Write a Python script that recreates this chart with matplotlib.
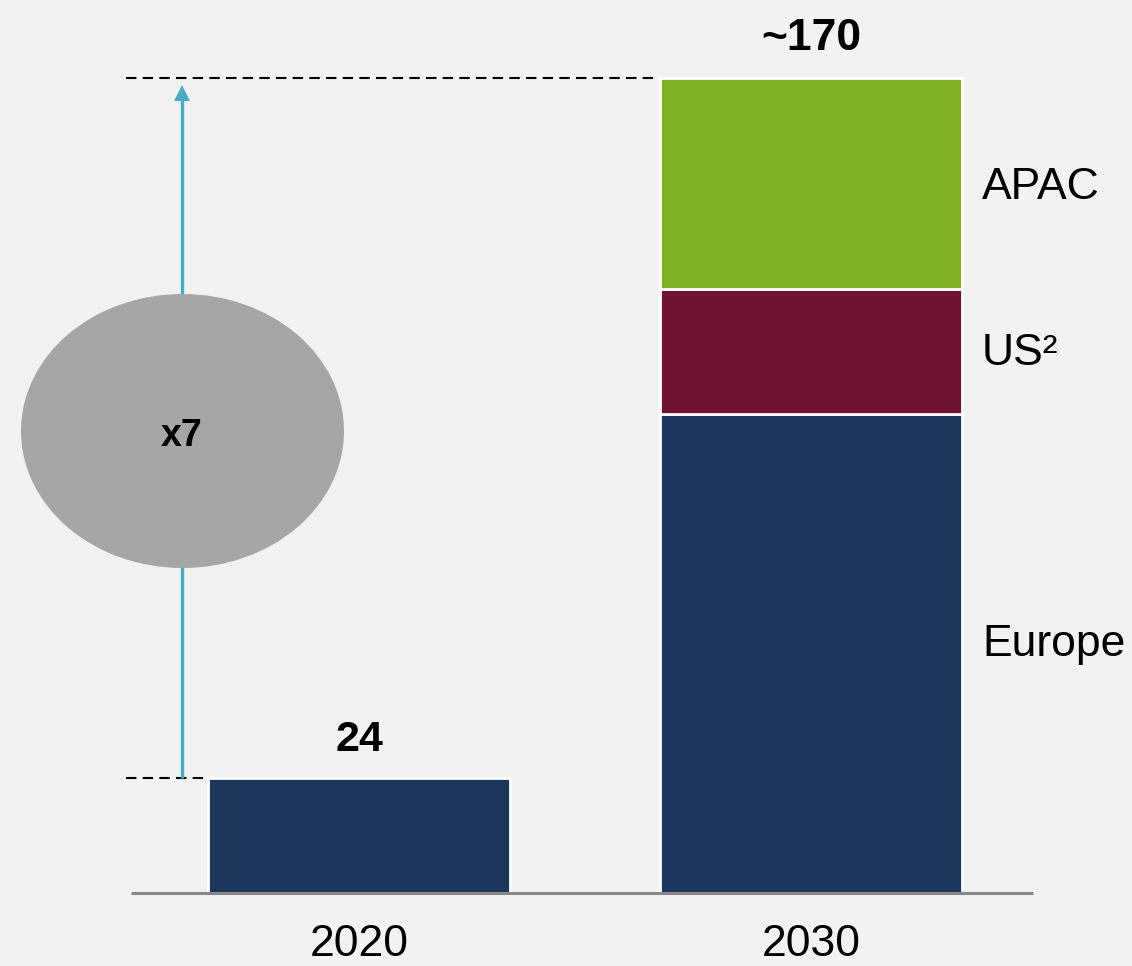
import matplotlib
matplotlib.use("Agg")
import matplotlib.pyplot as plt
from matplotlib.patches import Ellipse

plt.rcParams['font.family'] = ['Liberation Sans', 'DejaVu Sans']

# ---- data ----
years = ['2020', '2030']
regions = ['Europe', 'US²', 'APAC']
value_2020 = [24]
values_2030 = [100, 26, 44]          # Europe, US, APAC
total_labels = ['24', '~170']
growth_label = 'x7'

# ---- style ----
c_bg = '#F2F2F2'
c_navy = '#1B385C'
c_maroon = '#701232'
c_green = '#80B024'
c_arrow = '#4BACC6'
c_ellipse = '#A6A6A6'
region_colors = [c_navy, c_maroon, c_green]

W, H = 1132, 966
fig = plt.figure(figsize=(W / 100, H / 100), dpi=100, facecolor=c_bg)
ax = fig.add_axes([0, 0, 1, 1])
ax.set_facecolor(c_bg)
ax.axis('off')

# axis scaling (pixel layout)
base_px, top_px = 893, 78
total_2030 = sum(values_2030)
ppu = (base_px - top_px) / total_2030
x0_px, dx_px = 359, 452
ax.set_xlim(-x0_px / dx_px, (W - x0_px) / dx_px)
ax.set_ylim(-(H - base_px) / ppu, total_2030 + top_px / ppu)

def px_x(p):
    return (p - x0_px) / dx_px

def px_y(p):
    return (base_px - p) / ppu

xpos = [0, 1]
bw = 302 / dx_px

# bars
ax.bar(xpos[0], value_2020[0], width=bw, color=c_navy, edgecolor='white', linewidth=2, zorder=3)
bottom = 0
for v, col in zip(values_2030, region_colors):
    ax.bar(xpos[1], v, width=bw, bottom=bottom, color=col, edgecolor='white', linewidth=2, zorder=3)
    bottom += v

# baseline
ax.plot([px_x(131), px_x(1033)], [0, 0], color='#888888', lw=2.2, zorder=4, solid_capstyle='butt')

# dashed reference lines
ax.plot([px_x(126), px_x(655)], [total_2030, total_2030], color='black', lw=1.5,
        dashes=(5, 3), zorder=2)
ax.plot([px_x(126), px_x(205)], [value_2020[0], value_2020[0]], color='black', lw=1.5,
        dashes=(5, 3), zorder=2)

# growth arrow
ax_x = px_x(182)
ax.plot([ax_x, ax_x], [value_2020[0], px_y(96)], color=c_arrow, lw=2.4, zorder=2,
        solid_capstyle='butt')
ax.plot([ax_x], [px_y(93)], marker='^', markersize=12, color=c_arrow,
        markeredgewidth=0, zorder=2)

# ellipse
ell = Ellipse((px_x(182.5), px_y(431)), width=323 / dx_px, height=274 / ppu,
              facecolor=c_ellipse, edgecolor='none', zorder=5)
ax.add_patch(ell)
ax.text(px_x(182), px_y(446), growth_label, ha='center', va='baseline',
        fontsize=27, fontweight='bold', color='black', zorder=6)

# totals
ax.text(xpos[0], px_y(751), total_labels[0], ha='center', va='baseline',
        fontsize=31, fontweight='bold', color='black')
ax.text(xpos[1], px_y(50), total_labels[1], ha='center', va='baseline',
        fontsize=32, fontweight='bold', color='black')

# category labels
for xp, yr in zip(xpos, years):
    ax.text(xp, px_y(956), yr, ha='center', va='baseline', fontsize=32, color='black')

# region labels
label_base = [656, 365, 199]
for name, yb in zip(regions, label_base):
    ax.text(px_x(982), px_y(yb), name, ha='left', va='baseline', fontsize=32, color='black')

fig.savefig('out.png', dpi=100, facecolor=c_bg)
